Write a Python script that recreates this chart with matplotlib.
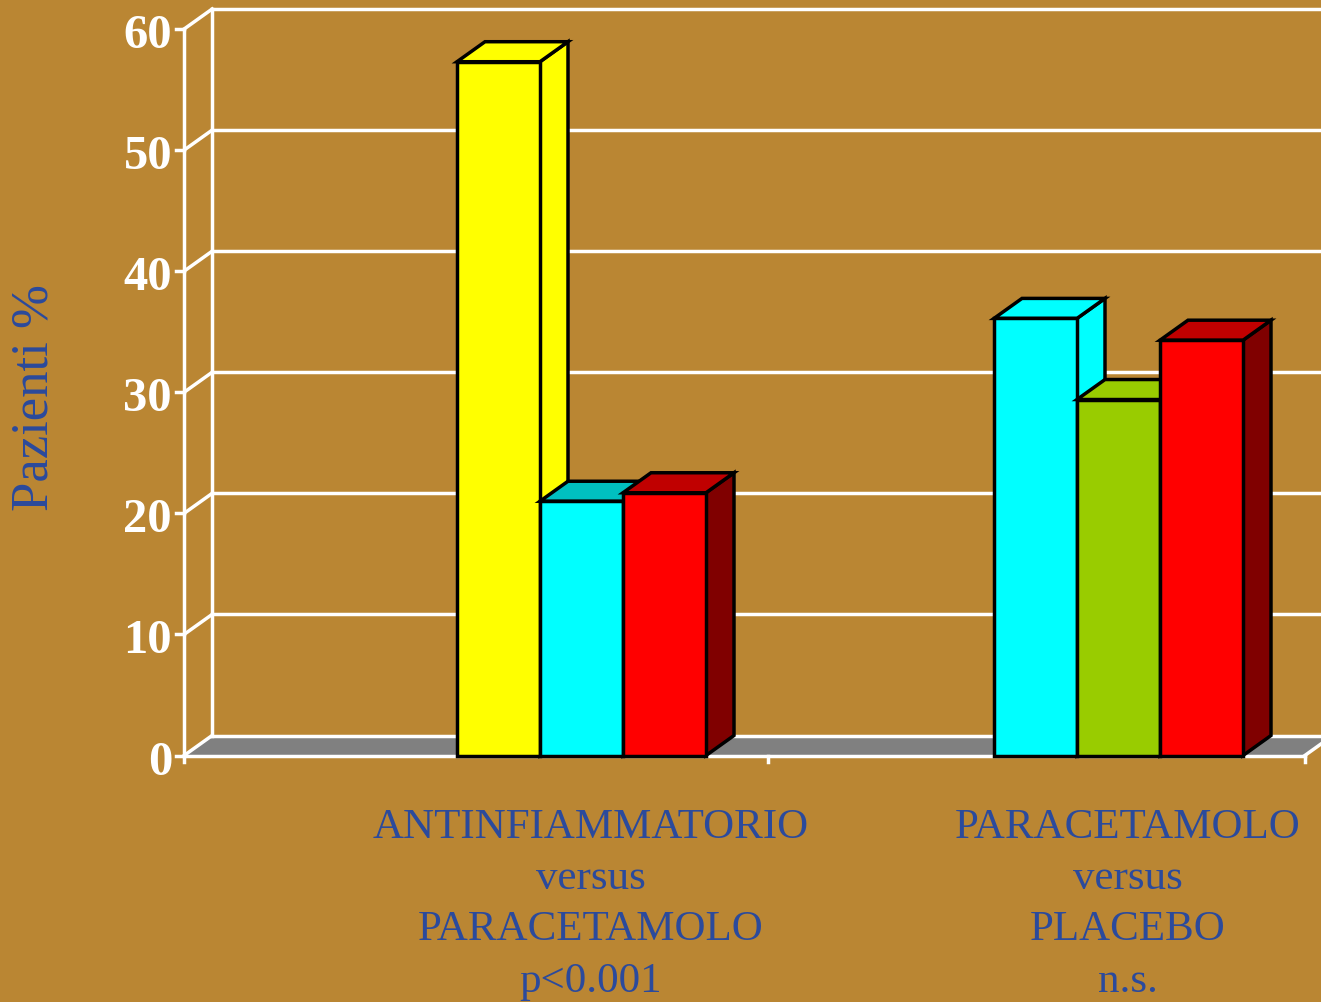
import matplotlib.pyplot as plt
from matplotlib.patches import Polygon

# valori (Pazienti %)
valori_1 = [57.3, 21.0, 21.7]
valori_2 = [36.1, 29.4, 34.3]
gruppi = ['ANTINFIAMMATORIO\nversus\nPARACETAMOLO\np<0.001',
          'PARACETAMOLO\nversus\nPLACEBO\nn.s.']
yticks = [0, 10, 20, 30, 40, 50, 60]

# colori: fronte, sopra, lato
fronte_1 = ['#FFFF00', '#00FFFF', '#FF0000']
sopra_1 = ['#FFFF00', '#00C0C0', '#C00000']
lato_1 = ['#FFFF00', '#00C0C0', '#800000']
fronte_2 = ['#00FFFF', '#99CC00', '#FF0000']
sopra_2 = ['#00FFFF', '#99CC00', '#C00000']
lato_2 = ['#00FFFF', '#99CC00', '#800000']

sfondo = '#BA8633'
blu = '#2B4A9C'

# geometria (unita: categorie in x, percentuale in y)
px_x = 1 / 537
px_y = 1 / 12.108
w = 83 * px_x
dx = 28 * px_x
dy = 20 * px_y
x_asse = 0.26
x_fine = 2.347
x_tacche = [1.347, 2.347]

fig = plt.figure(figsize=(13.21, 10.03), dpi=100)
fig.patch.set_facecolor(sfondo)
ax = fig.add_axes([0, 0, 1, 1])
ax.set_facecolor(sfondo)
ax.set_xlim(1 - 581.5 * px_x, 1 + (1321 - 581.5) * px_x)
ax.set_ylim(-246.5 * px_y, 756.5 * px_y)
ax.axis('off')

lw = 2.5
bianco = 'white'

# pavimento
ax.add_patch(Polygon([(x_asse, 0), (x_fine, 0), (x_fine + dx, dy), (x_asse + dx, dy)],
                     closed=True, facecolor='#808080', edgecolor='none', zorder=1))

# parete di fondo e griglia
for v in yticks:
    ax.plot([x_asse + dx, 3], [v + dy, v + dy], color=bianco, lw=lw, zorder=2)
    ax.plot([x_asse, x_asse + dx], [v, v + dy], color=bianco, lw=lw, zorder=2)
    ax.plot([x_asse - 8 * px_x, x_asse], [v, v], color=bianco, lw=lw, zorder=2)
    ax.text(x_asse - 12 * px_x, v - 0.5, str(v), ha='right', va='center',
            fontsize=35, fontweight='bold', color=bianco, family='Liberation Serif')
ax.plot([x_asse + dx, x_asse + dx], [dy, 60 + dy], color=bianco, lw=lw, zorder=2)
ax.plot([x_asse, x_asse], [-6 * px_y, 60], color=bianco, lw=lw, zorder=2)
ax.plot([x_asse, x_fine], [0, 0], color=bianco, lw=lw, zorder=2)
ax.plot([x_fine, x_fine + dx], [0, dy], color=bianco, lw=lw, zorder=2)
for xt in x_tacche:
    ax.plot([xt, xt], [0, -6 * px_y], color=bianco, lw=lw, zorder=2)


def barra(x0, h, cf, cs, cl):
    lato = [(x0 + w, 0), (x0 + w + dx, dy), (x0 + w + dx, h + dy), (x0 + w, h)]
    sopra = [(x0, h), (x0 + w, h), (x0 + w + dx, h + dy), (x0 + dx, h + dy)]
    fronte = [(x0, 0), (x0 + w, 0), (x0 + w, h), (x0, h)]
    for pts, c in [(lato, cl), (sopra, cs), (fronte, cf)]:
        ax.add_patch(Polygon(pts, closed=True, facecolor=c, edgecolor='black',
                             lw=2.5, joinstyle='miter', zorder=3))


for centro, valori, cf, cs, cl in [(1, valori_1, fronte_1, sopra_1, lato_1),
                                   (2, valori_2, fronte_2, sopra_2, lato_2)]:
    x0 = centro - 1.5 * w
    for i, h in enumerate(valori):
        barra(x0 + i * w, h, cf[i], cs[i], cl[i])

# etichette categorie
for centro, testo in zip([1, 2], gruppi):
    ax.text(centro + 9 * px_x, -52 * px_y, testo, ha='center', va='top',
            fontsize=31, color=blu, family='Liberation Serif', linespacing=1.43)

ax.text(35 * px_x + ax.get_xlim()[0], (756.5 - 398) * px_y, 'Pazienti %',
        rotation=90, ha='center', va='center', fontsize=38, color=blu,
        family='Liberation Serif')

fig.savefig('out.png', dpi=100, facecolor=sfondo)
